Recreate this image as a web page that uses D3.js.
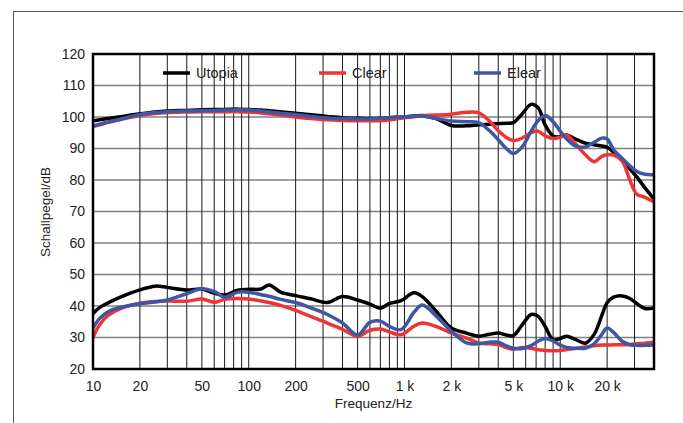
<!DOCTYPE html>
<html>
<head>
<meta charset="utf-8">
<script src="https://cdn.jsdelivr.net/npm/d3@7"></script>
<style>
  body { margin: 0; background: #fff; }
  text { font-family: "Liberation Sans", Arial, Helvetica, sans-serif; fill: #222; }
</style>
</head>
<body>
<script>
// frequencies (Hz) shared by all curves
var freqs = [10, 11, 12.5, 15, 20, 25, 30, 40, 50, 60, 70, 85, 100, 120, 135, 160, 200, 250, 320, 400,
    500, 600, 700, 800, 950, 1150, 1300, 1600, 2000, 2500, 3000, 3500, 4000, 4500, 5000, 5700, 6500, 7200,
    8000, 9000, 10000, 11000, 12500, 14500, 16500, 18500, 20000, 22000, 25000, 28000, 31000, 35000, 40000];

// upper curves (level)
var utopiaHigh = [98.8, 99.1, 99.5, 100.1, 101.0, 101.6, 101.9, 102.1, 102.3, 102.4, 102.4, 102.5, 102.4, 102.2, 102.0, 101.7, 101.2, 100.7, 100.2, 99.8,
    99.6, 99.5, 99.6, 99.8, 100.0, 100.3, 100.5, 99.5, 97.3, 97.2, 97.5, 97.7, 97.9, 98.0, 98.2, 101.0, 104.0, 103.0,
    97.5, 94.0, 93.7, 94.3, 93.0, 91.7, 91.2, 90.8, 90.4, 88.8, 86.5, 83.5, 81.0, 77.5, 74.0];
var clearHigh = [97.0, 97.5, 98.3, 99.2, 100.5, 101.1, 101.4, 101.6, 101.7, 101.7, 101.7, 101.7, 101.6, 101.3, 101.0, 100.6, 100.0, 99.5, 99.1, 98.9,
    98.8, 98.8, 98.8, 99.1, 99.6, 100.1, 100.4, 100.6, 100.9, 101.5, 101.3, 98.8, 95.6, 93.5, 92.5, 93.3, 95.0, 95.5,
    94.0, 93.2, 93.6, 94.3, 91.5, 88.0, 85.8, 87.5, 88.0, 87.9, 86.0, 80.0, 75.5, 74.5, 73.0];
var elearHigh = [97.2, 97.7, 98.4, 99.3, 100.8, 101.4, 101.7, 101.9, 102.0, 102.1, 102.2, 102.3, 102.2, 101.9, 101.6, 101.2, 100.8, 100.2, 99.7, 99.5,
    99.4, 99.4, 99.6, 99.8, 100.0, 100.2, 100.3, 99.5, 98.7, 98.5, 98.2, 95.7, 92.8, 90.0, 88.4, 90.5, 95.5, 98.8,
    100.5, 98.5, 95.5, 93.0, 90.8, 90.5, 92.0, 93.3, 93.0, 89.7, 86.8, 84.5, 82.7, 81.8, 81.7];

// lower curves (distortion)
var utopiaLow = [37.6, 39.5, 41.0, 42.8, 45.1, 46.3, 45.9, 45.1, 45.4, 44.1, 43.5, 45.0, 45.3, 45.4, 46.7, 44.4, 43.3, 42.3, 41.1, 43.0,
    41.9, 40.6, 39.3, 40.8, 41.7, 44.2, 43.0, 38.3, 33.0, 31.4, 30.4, 31.0, 31.4, 30.8, 30.6, 34.0, 37.3, 36.8,
    33.5, 29.3, 29.7, 30.4, 29.4, 28.2, 31.0, 37.0, 41.0, 42.8, 43.2, 42.4, 40.8, 39.2, 39.4];
var clearLow = [30.0, 34.0, 37.0, 39.2, 40.9, 41.4, 41.6, 41.5, 42.2, 41.2, 42.1, 42.4, 42.2, 41.6, 41.1, 40.2, 38.6, 36.7, 34.6, 32.6,
    30.4, 32.3, 32.7, 31.8, 30.9, 33.6, 34.6, 33.5, 31.4, 29.8, 28.3, 28.0, 27.8, 26.8, 26.3, 26.8, 26.6, 26.1,
    25.9, 25.8, 25.9, 26.2, 26.5, 27.0, 27.4, 27.6, 27.6, 27.7, 27.7, 27.8, 28.0, 28.2, 28.5];
var elearLow = [33.0, 36.0, 38.2, 39.6, 40.7, 41.3, 41.9, 43.9, 45.5, 44.6, 42.8, 44.4, 44.4, 43.6, 43.1, 42.1, 41.1, 39.4, 37.3, 34.6,
    30.8, 34.8, 35.2, 33.5, 32.5, 38.0, 40.3, 36.8, 32.0, 28.3, 28.0, 28.5, 28.5, 27.3, 26.6, 26.5, 27.4, 28.8,
    29.7, 28.9, 27.6, 26.8, 26.6, 26.6, 28.0, 31.0, 33.0, 31.6, 28.8, 27.7, 27.5, 27.5, 27.6];

var seriesNames = ["Utopia", "Clear", "Elear"];
var seriesColors = ["#000000", "#ef3434", "#3d56a6"];

// axis ticks
var yTicks = [20, 30, 40, 50, 60, 70, 80, 90, 100, 110, 120];
var xTicks = [10, 20, 50, 100, 200, 500, 1000, 2000, 5000, 10000, 20000];
var xTickLabels = ["10", "20", "50", "100", "200", "500", "1 k", "2 k", "5 k", "10 k", "20 k"];

window.onload = function(){
    var w = 683, h = 423;
    var pLeft = 93, pRight = 654, pTop = 54, pBottom = 369;

    var svg = d3.select("body").append("svg")
        .attr("width", w)
        .attr("height", h);

    // outer frame (open to the right and bottom)
    svg.append("rect")
        .attr("x", 13.5).attr("y", 11.5)
        .attr("width", 720).attr("height", 460)
        .style("fill", "none")
        .style("stroke", "#555")
        .style("stroke-width", 1);

    var x = d3.scaleLog().domain([10, 40000]).range([pLeft, pRight]);
    var y = d3.scaleLinear().domain([20, 120]).range([pBottom, pTop]);

    // grid
    svg.append("g").selectAll("line")
        .data(yTicks.slice(1, -1))
        .enter().append("line")
        .attr("x1", pLeft).attr("x2", pRight)
        .attr("y1", function(d){ return y(d); })
        .attr("y2", function(d){ return y(d); })
        .style("stroke", "#808080")
        .style("stroke-width", 1.5);

    svg.append("g").selectAll("line")
        .data(x.ticks().filter(function(d){ return d > 10 && d < 40000; }))
        .enter().append("line")
        .attr("x1", function(d){ return x(d); })
        .attr("x2", function(d){ return x(d); })
        .attr("y1", pTop).attr("y2", pBottom)
        .style("stroke", "#1a1a1a")
        .style("stroke-width", 1);

    // curves
    svg.append("clipPath").attr("id", "plotClip")
        .append("rect")
        .attr("x", pLeft).attr("y", pTop)
        .attr("width", pRight - pLeft).attr("height", pBottom - pTop);

    var line = d3.line()
        .x(function(d, i){ return x(freqs[i]); })
        .y(function(d){ return y(d); })
        .curve(d3.curveCatmullRom);

    var curves = [
        { data: utopiaLow, k: 0 }, { data: utopiaHigh, k: 0 },
        { data: clearLow, k: 1 }, { data: clearHigh, k: 1 },
        { data: elearLow, k: 2 }, { data: elearHigh, k: 2 }
    ];

    svg.append("g").attr("clip-path", "url(#plotClip)")
        .selectAll("path")
        .data(curves)
        .enter().append("path")
        .attr("d", function(d){ return line(d.data); })
        .style("fill", "none")
        .style("stroke", function(d){ return seriesColors[d.k]; })
        .style("stroke-width", 3.5)
        .style("stroke-linejoin", "round");

    // plot frame
    svg.append("rect")
        .attr("x", pLeft).attr("y", pTop)
        .attr("width", pRight - pLeft).attr("height", pBottom - pTop)
        .style("fill", "none")
        .style("stroke", "#000")
        .style("stroke-width", 2.5);

    // axes
    var yAxis = svg.append("g")
        .attr("transform", "translate(" + pLeft + ",0)")
        .call(d3.axisLeft(y).tickValues(yTicks).tickSize(0).tickPadding(8));
    var xAxis = svg.append("g")
        .attr("transform", "translate(0," + pBottom + ")")
        .call(d3.axisBottom(x).tickValues(xTicks).tickSize(0).tickPadding(12)
            .tickFormat(function(d, i){ return xTickLabels[i]; }));
    [yAxis, xAxis].forEach(function(a){
        a.select(".domain").remove();
        a.selectAll("text")
            .style("font-family", '"Liberation Sans", Arial, sans-serif')
            .style("font-size", "14px")
            .style("fill", "#222");
    });

    // axis titles
    svg.append("text")
        .attr("x", (pLeft + pRight) / 2)
        .attr("y", 408)
        .attr("text-anchor", "middle")
        .style("font-size", "13.5px")
        .text("Frequenz/Hz");

    svg.append("text")
        .attr("transform", "translate(50,212) rotate(-90)")
        .attr("text-anchor", "middle")
        .style("font-size", "13.5px")
        .text("Schallpegel/dB");

    // legend
    var legendX = [163, 319, 474];
    var legend = svg.append("g").selectAll("g")
        .data(seriesNames)
        .enter().append("g")
        .attr("transform", function(d, i){ return "translate(" + legendX[i] + ",73)"; });
    legend.append("line")
        .attr("x1", 0).attr("x2", 27)
        .style("stroke", function(d, i){ return seriesColors[i]; })
        .style("stroke-width", 3.5);
    legend.append("text")
        .attr("x", 33).attr("y", 5)
        .style("font-size", "14.5px")
        .style("fill", "#222")
        .text(function(d){ return d; });
};
</script>
</body>
</html>
